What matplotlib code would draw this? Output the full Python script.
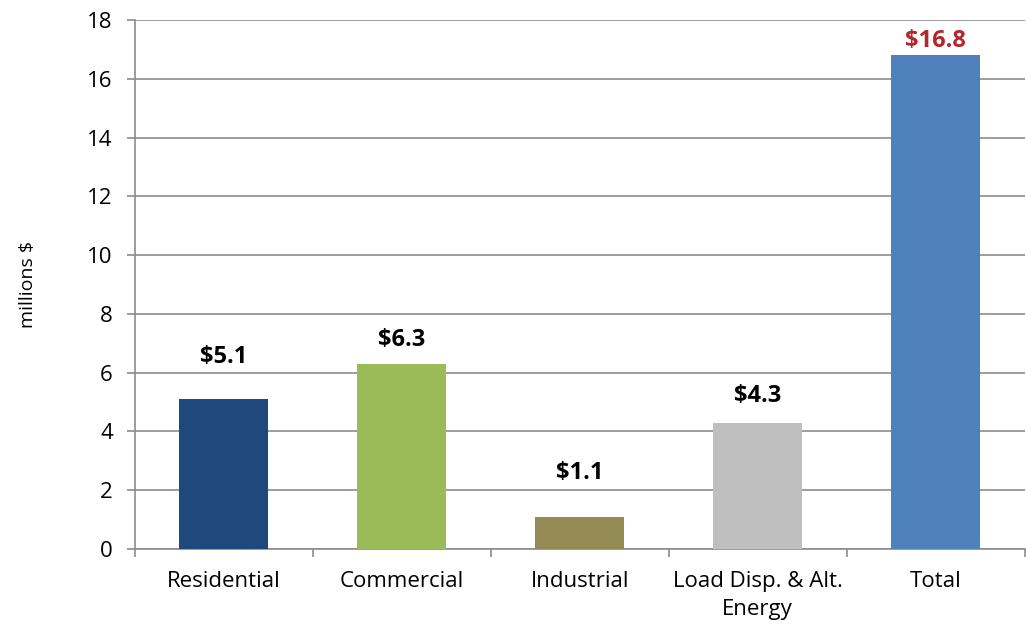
import matplotlib.pyplot as plt
import numpy as np

# Program costs by sector (millions $)
categories = ['Residential', 'Commercial', 'Industrial', 'Load Disp. & Alt.\nEnergy', 'Total']
values = [5.1, 6.3, 1.1, 4.3, 16.8]
value_labels = ['$5.1', '$6.3', '$1.1', '$4.3', '$16.8']

colors = ['#1F497D', '#9BBB59', '#948A54', '#BFBFBF', '#4F81BD']
label_colors = ['black', 'black', 'black', 'black', '#B3262B']
label_offsets = [1.43, 0.81, 1.49, 0.9, 0.5]

plt.rcParams['font.family'] = ['Open Sans', 'DejaVu Sans']

fig = plt.figure(figsize=(10.26, 6.27), dpi=100)
ax = fig.add_axes([0.1316, 0.1244, 0.867, 0.8436])

x = np.arange(len(categories))
ax.bar(x, values, width=0.5, color=colors, zorder=3)

for xi, v, lab, c, off in zip(x, values, value_labels, label_colors, label_offsets):
    ax.text(xi, v + off, lab, ha='center', va='center', fontsize=17,
            fontweight='bold', color=c, zorder=4)

ax.set_xlim(-0.5, len(categories) - 0.5)
ax.set_ylim(0, 18)
ax.set_yticks(np.arange(0, 19, 2))
ax.yaxis.grid(True, color='#8C8C8C', linewidth=1.2, zorder=0)

# category labels sit between the boundary ticks
ax.set_xticks(x)
ax.set_xticklabels(categories, fontsize=16, linespacing=1.45)
ax.tick_params(axis='x', length=0, pad=16)
ax.set_xticks(np.arange(len(categories) + 1) - 0.5, minor=True)
ax.tick_params(axis='x', which='minor', length=6, color='#8C8C8C', width=1.2)
ax.tick_params(axis='y', labelsize=16, length=6, color='#8C8C8C', width=1.2, pad=10)

for side in ['top', 'right']:
    ax.spines[side].set_visible(False)
for side in ['left', 'bottom']:
    ax.spines[side].set_color('#8C8C8C')
    ax.spines[side].set_linewidth(1.2)

ax.set_ylabel('millions $', fontsize=14, labelpad=36)

fig.savefig('out.png', dpi=100)
